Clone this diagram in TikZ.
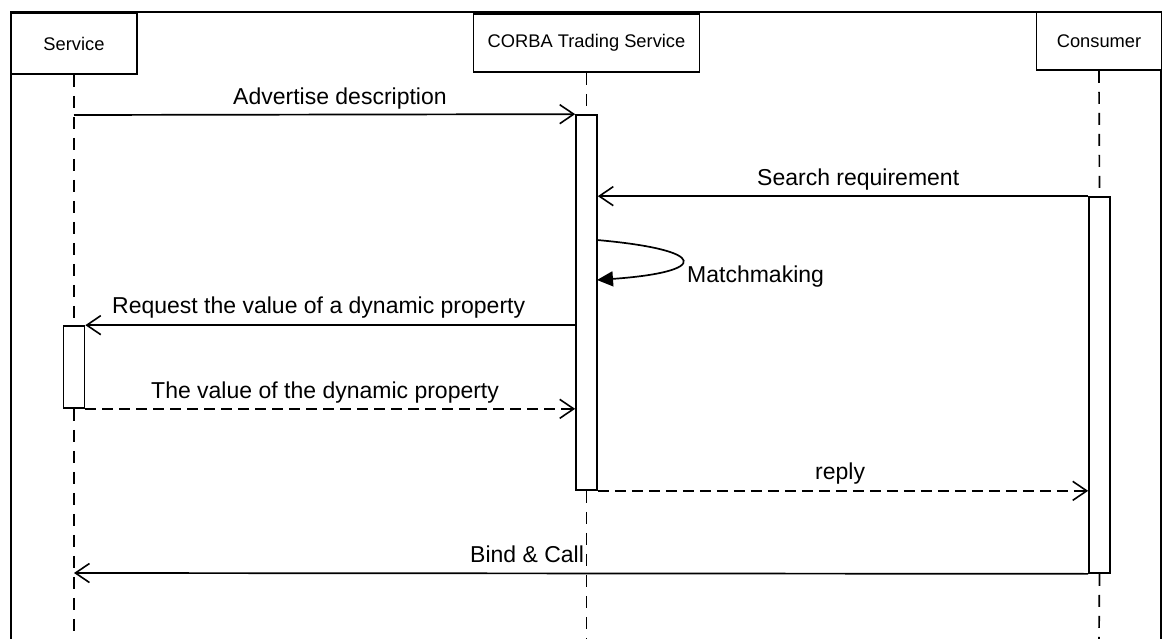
\documentclass[tikz,border=0pt]{standalone}
\usepackage{fontspec}
\setmainfont{Liberation Sans}
\usetikzlibrary{arrows.meta}
\tikzset{
  lbox/.style={draw, line width=1.7pt, fill=white, inner sep=0pt, font=\fontsize{18.3}{20}\selectfont},
  actbar/.style={draw, line width=1.7pt, fill=white, minimum width=21pt, inner sep=0pt},
  lifeline/.style={line width=1.7pt, dash pattern=on 12pt off 9pt},
  msg/.style={line width=1.7pt, -{Straight Barb[length=14pt,width=19pt,line width=1.6pt]}},
  retmsg/.style={msg, dash pattern=on 11pt off 6pt},
  selfmsg/.style={line width=1.7pt, -{Triangle[length=16pt,width=15pt]}},
  mlabel/.style={anchor=base west, inner sep=0pt, font=\fontsize{23}{26}\selectfont},
  frame/.style={line width=2pt}
}
\begin{document}
\begin{tikzpicture}[x=1pt,y=-1pt]
\useasboundingbox (0,0) rectangle (1162,639);
% frame
\coordinate (fbl) at (11,639);
\coordinate (ftl) at (11,12);
\coordinate (ftr) at (1161,12);
\coordinate (fbr) at (1161,639);
\draw[frame] (fbl) -- (ftl) -- (ftr) -- (fbr);
% lifeline heads
\node[lbox, minimum width=126pt, minimum height=61pt] (svc) at (74,43.5) {Service};
\node[lbox, minimum width=226pt, minimum height=58pt] (cts) at (586.5,43) {CORBA Trading Service};
\node[lbox, minimum width=125pt, minimum height=58pt] (con) at (1099,41) {Consumer};
% activation bars
\node[actbar, minimum height=375pt] (cbar) at (586.5,302.5) {};
\node[actbar, minimum height=82pt] (sbar) at (74,367) {};
\node[actbar, minimum height=376pt] (nbar) at (1099.5,385) {};
% lifeline ends
\coordinate (svcend) at (74,639);
\coordinate (ctsend) at (586.5,639);
\coordinate (conend) at (1099,639);
\coordinate (svcbind) at (74,573);
% lifelines
\draw[lifeline] (svc.south) -- (sbar.north);
\draw[lifeline] (sbar.south) -- (svcend);
\draw[lifeline] (cts.south) -- (cbar.north);
\draw[lifeline] (cbar.south) -- (ctsend);
\draw[lifeline] (con.south) -- (nbar.north);
\draw[lifeline] (nbar.south) -- (conend);
% messages
\coordinate (adv) at (74,115);
\draw[msg] (adv) -- (cbar.north west);
\node[mlabel] (advl) at (233,105) {Advertise description};

\draw[msg] (nbar.north west) -- (cbar.east |- nbar.north);
\node[mlabel] (srl) at (757,186) {Search requirement};

\coordinate (mm1) at (597,240);
\coordinate (mm2) at (597,280);
\draw[selfmsg] (mm1) .. controls (710,250) and (710,272) .. (mm2);
\node[mlabel] (mml) at (687,282) {Matchmaking};

\draw[msg] (cbar.west |- sbar.north) -- (sbar.north east);
\node[mlabel] (rql) at (112,313) {Request the value of a dynamic property};

\draw[retmsg] (sbar.south east) -- (cbar.west |- sbar.south);
\node[mlabel] (vall) at (151,398) {The value of the dynamic property};

\draw[retmsg] (cbar.south east) -- (nbar.west |- cbar.south);
\node[mlabel] (repl) at (815,479) {reply};

\draw[msg] (nbar.south west) -- (svcbind);
\node[mlabel] (bcl) at (470,562) {Bind \& Call};
\end{tikzpicture}
\end{document}
